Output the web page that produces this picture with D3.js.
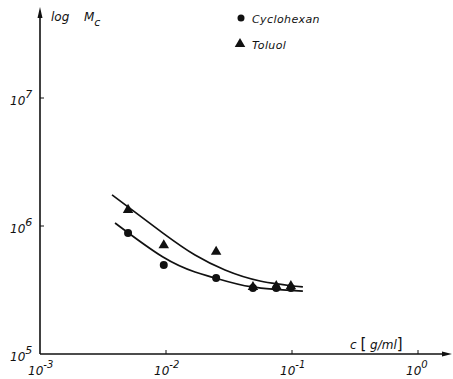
<!DOCTYPE html>
<html>
<head>
<meta charset="utf-8">
<script src="https://cdn.jsdelivr.net/npm/d3@7"></script>
<style>
  body { margin: 0; background: #fff; }
  svg { display: block; }
  text { font-family: 'DejaVu Sans', sans-serif; font-style: italic; fill: #111; }
</style>
</head>
<body>
<div id="graf"></div>
<script>
// datos
const cCyclo = [0.005, 0.0096, 0.025, 0.049, 0.075, 0.098]
const mCyclo = [8.8e5, 4.95e5, 3.93e5, 3.28e5, 3.28e5, 3.28e5]
const cToluol = [0.005, 0.0096, 0.025, 0.049, 0.075, 0.098]
const mToluol = [1.36e6, 7.2e5, 6.4e5, 3.4e5, 3.45e5, 3.45e5]
// curvas ajustadas (dibujadas a mano en el original)
const cFitToluol = [0.00373, 0.00946, 0.017, 0.0294, 0.0557, 0.122]
const mFitToluol = [1.75e6, 8.8e5, 5.93e5, 4.53e5, 3.72e5, 3.34e5]
const cFitCyclo = [0.00394, 0.00946, 0.017, 0.0245, 0.0482, 0.122]
const mFitCyclo = [1.055e6, 5.72e5, 4.37e5, 3.93e5, 3.34e5, 3.1e5]
const xTicks = [1e-3, 1e-2, 1e-1, 1e0]
const xTickLabels = ['-3', '-2', '-1', '0']
const yTicks = [1e5, 1e6, 1e7]
const yTickLabels = ['5', '6', '7']

const ancho_total = 453, alto_total = 379

svg = d3.select('#graf').append('svg')
        .attr('width', ancho_total)
        .attr('height', alto_total)

x = d3.scaleLog().domain([1e-3, 1e0]).range([40, 418])
y = d3.scaleLog().domain([1e5, 1e7]).range([354, 98])

g = svg.append('g')

// ejes con flecha
g.append('line').attr('x1', x(1e-3)).attr('x2', 446)
 .attr('y1', y(1e5)).attr('y2', y(1e5))
 .attr('stroke', '#111').attr('stroke-width', 1.6)
g.append('path')
 .attr('d', `M452,${y(1e5)} L442,${y(1e5) - 2.5} L442,${y(1e5) + 2.5} Z`)
 .attr('fill', '#111')
g.append('line').attr('x1', x(1e-3)).attr('x2', x(1e-3))
 .attr('y1', y(1e5)).attr('y2', 14)
 .attr('stroke', '#111').attr('stroke-width', 1.6)
g.append('path')
 .attr('d', `M${x(1e-3)},7 L${x(1e-3) - 2.5},18 L${x(1e-3) + 2.5},18 Z`)
 .attr('fill', '#111')

// ticks
g.selectAll('line.xt').data(xTicks.slice(1)).enter().append('line')
 .attr('class', 'xt')
 .attr('x1', d => x(d)).attr('x2', d => x(d))
 .attr('y1', y(1e5)).attr('y2', y(1e5) - 4)
 .attr('stroke', '#111').attr('stroke-width', 1)
g.selectAll('line.yt').data(yTicks.slice(1)).enter().append('line')
 .attr('class', 'yt')
 .attr('x1', x(1e-3)).attr('x2', x(1e-3) + 4)
 .attr('y1', d => y(d)).attr('y2', d => y(d))
 .attr('stroke', '#111').attr('stroke-width', 1)

// etiquetas de ticks
xl = g.selectAll('text.xl').data(xTicks).enter().append('text')
 .attr('class', 'xl')
 .attr('x', d => x(d) - 12)
 .attr('y', 375)
 .style('font-size', '12px')
xl.append('tspan').text('10')
xl.append('tspan').attr('dy', -7).style('font-size', '10px').text((d, i) => xTickLabels[i])

yl = g.selectAll('text.yl').data(yTicks).enter().append('text')
 .attr('class', 'yl')
 .attr('x', 10)
 .attr('y', d => y(d) + 7)
 .style('font-size', '12px')
yl.append('tspan').text('10')
yl.append('tspan').attr('dy', -7).style('font-size', '11px').text((d, i) => yTickLabels[i])

// titulos de ejes
g.append('text').attr('x', 51).attr('y', 21).style('font-size', '12px').text('log')
ty = g.append('text').attr('x', 84).attr('y', 21).style('font-size', '12px')
ty.append('tspan').text('M')
ty.append('tspan').attr('dy', 5).style('font-size', '11px').text('c')

xt = g.append('text').attr('x', 350).attr('y', 349).style('font-size', '12px')
xt.append('tspan').text('c ')
xt.append('tspan').style('font-size', '15px').style('font-style', 'normal').text('[')
xt.append('tspan').text(' g/ml')
xt.append('tspan').style('font-size', '15px').style('font-style', 'normal').text(']')

// curvas
const linea = d3.line().x(d => x(d[0])).y(d => y(d[1])).curve(d3.curveNatural)
g.append('path').datum(cFitToluol.map((c, i) => [c, mFitToluol[i]]))
 .attr('d', linea).attr('fill', 'none').attr('stroke', '#111').attr('stroke-width', 1.7)
g.append('path').datum(cFitCyclo.map((c, i) => [c, mFitCyclo[i]]))
 .attr('d', linea).attr('fill', 'none').attr('stroke', '#111').attr('stroke-width', 1.7)

// puntos
const tri = d3.symbol().type(d3.symbolTriangle).size(48)
g.selectAll('circle.cy').data(cCyclo).enter().append('circle')
 .attr('class', 'cy')
 .attr('cx', d => x(d)).attr('cy', (d, i) => y(mCyclo[i]))
 .attr('r', 4).attr('fill', '#111')
g.selectAll('path.to').data(cToluol).enter().append('path')
 .attr('class', 'to')
 .attr('d', tri)
 .attr('transform', (d, i) => `translate(${x(d)}, ${y(mToluol[i]) + 1})`)
 .attr('fill', '#111')

// leyenda
g.append('circle').attr('cx', 241).attr('cy', 18).attr('r', 3.5).attr('fill', '#111')
g.append('text').attr('x', 252).attr('y', 23).style('font-size', '11px').style('letter-spacing', '0.4px').text('Cyclohexan')
g.append('path').attr('d', tri).attr('transform', 'translate(240, 44)').attr('fill', '#111')
g.append('text').attr('x', 252).attr('y', 49).style('font-size', '11px').style('letter-spacing', '0.4px').text('Toluol')
</script>
</body>
</html>
